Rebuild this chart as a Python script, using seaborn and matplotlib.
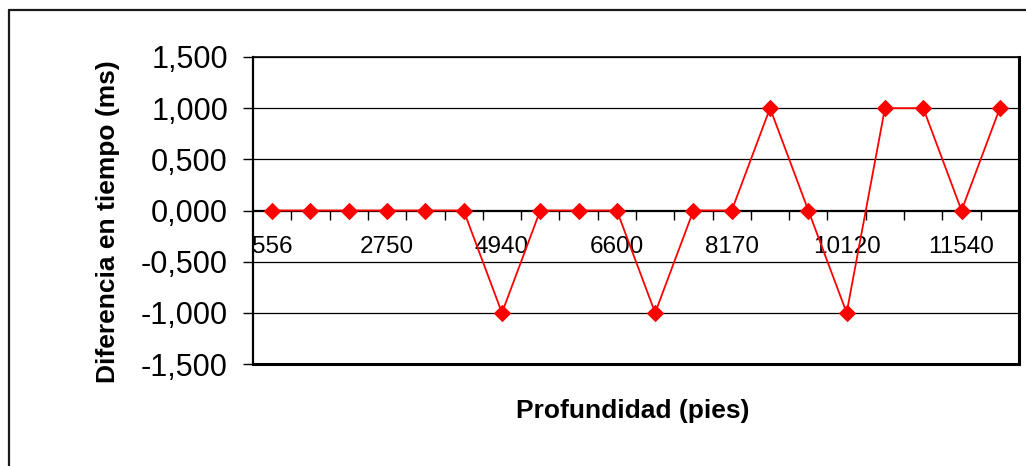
import numpy as np
import pandas as pd
import matplotlib
matplotlib.use("Agg")
import matplotlib.pyplot as plt
import seaborn as sns
from matplotlib.ticker import FixedLocator, FuncFormatter
from matplotlib.lines import Line2D

# Time difference (ms) at each depth station
diferencia = [0, 0, 0, 0, 0, 0, -1, 0, 0, 0, -1, 0, 0, 1, 0, -1, 1, 1, 0, 1]
# Depth labels (ft) printed on the category axis, one every third station
etiquetas_prof = ["556", "2750", "4940", "6600", "8170", "10120", "11540"]
paso_etiqueta = 3
y_ticks = [-1.5, -1.0, -0.5, 0.0, 0.5, 1.0, 1.5]

sns.set_theme(style="white")
plt.rcParams["font.family"] = ["Liberation Sans", "DejaVu Sans"]
plt.rcParams["axes.edgecolor"] = "black"

n = len(diferencia)
df = pd.DataFrame({"estacion": np.arange(n), "diferencia": diferencia})

W, H = 1026, 466
fig = plt.figure(figsize=(W / 100, H / 100), dpi=100)
fig.patch.set_facecolor("white")
ax = fig.add_axes([253 / W, 1 - 364 / H, (1019 - 253) / W, (364 - 57) / H])

sns.lineplot(data=df, x="estacion", y="diferencia", ax=ax, color="#FF0000",
             lw=1.3, marker="D", markersize=7.8, markeredgecolor="#FF0000",
             markerfacecolor="#FF0000", zorder=5, clip_on=False)

ax.set_xlim(-0.5, n - 0.5)
ax.set_ylim(y_ticks[0], y_ticks[-1])
ax.set_xlabel("")
ax.set_ylabel("")

# value axis
ax.set_yticks(y_ticks)
ax.yaxis.set_major_formatter(FuncFormatter(lambda v, _: f"{v:.3f}".replace(".", ",")))
ax.tick_params(axis="y", direction="out", length=7, width=1, pad=11,
               labelsize=22, left=True, color="black", labelcolor="black")
ax.yaxis.grid(True, color="black", lw=0.9)
ax.xaxis.grid(False)
ax.set_xticks([])

# plot-area frame
for side, lw in {"left": 1.6, "top": 1.2, "right": 2.2, "bottom": 2.2}.items():
    ax.spines[side].set_linewidth(lw)
    ax.spines[side].set_color("black")

# category axis crossing at zero
sec = ax.secondary_xaxis(0, transform=ax.transData)
sec.set_xticks(list(range(0, n, paso_etiqueta)), labels=etiquetas_prof)
sec.xaxis.set_minor_locator(FixedLocator(np.arange(0.5, n - 1, 1.0)))
sec.tick_params(which="major", length=0, pad=18.5, labelsize=17.5, labelcolor="black")
sec.tick_params(which="minor", length=7, width=1, direction="out", color="black",
                bottom=True)
sec.spines["bottom"].set_linewidth(0.9)
sec.spines["bottom"].set_color("black")

# axis titles
fig.text(633 / W, 1 - 411 / H, "Profundidad (pies)", ha="center", va="center",
         fontsize=19, fontweight="bold", color="black")
fig.text(108 / W, 1 - 222 / H, "Diferencia en tiempo (ms)", ha="center",
         va="center", rotation=90, fontsize=19, fontweight="bold", color="black")

# chart border
fig.add_artist(Line2D([9 / W, 1.01], [1 - 10 / H, 1 - 10 / H], color="#1a1a1a",
                      lw=1.6, transform=fig.transFigure))
fig.add_artist(Line2D([9 / W, 9 / W], [-0.01, 1 - 10 / H], color="#1a1a1a",
                      lw=1.6, transform=fig.transFigure))

fig.savefig("out.png", dpi=100, facecolor="white")
